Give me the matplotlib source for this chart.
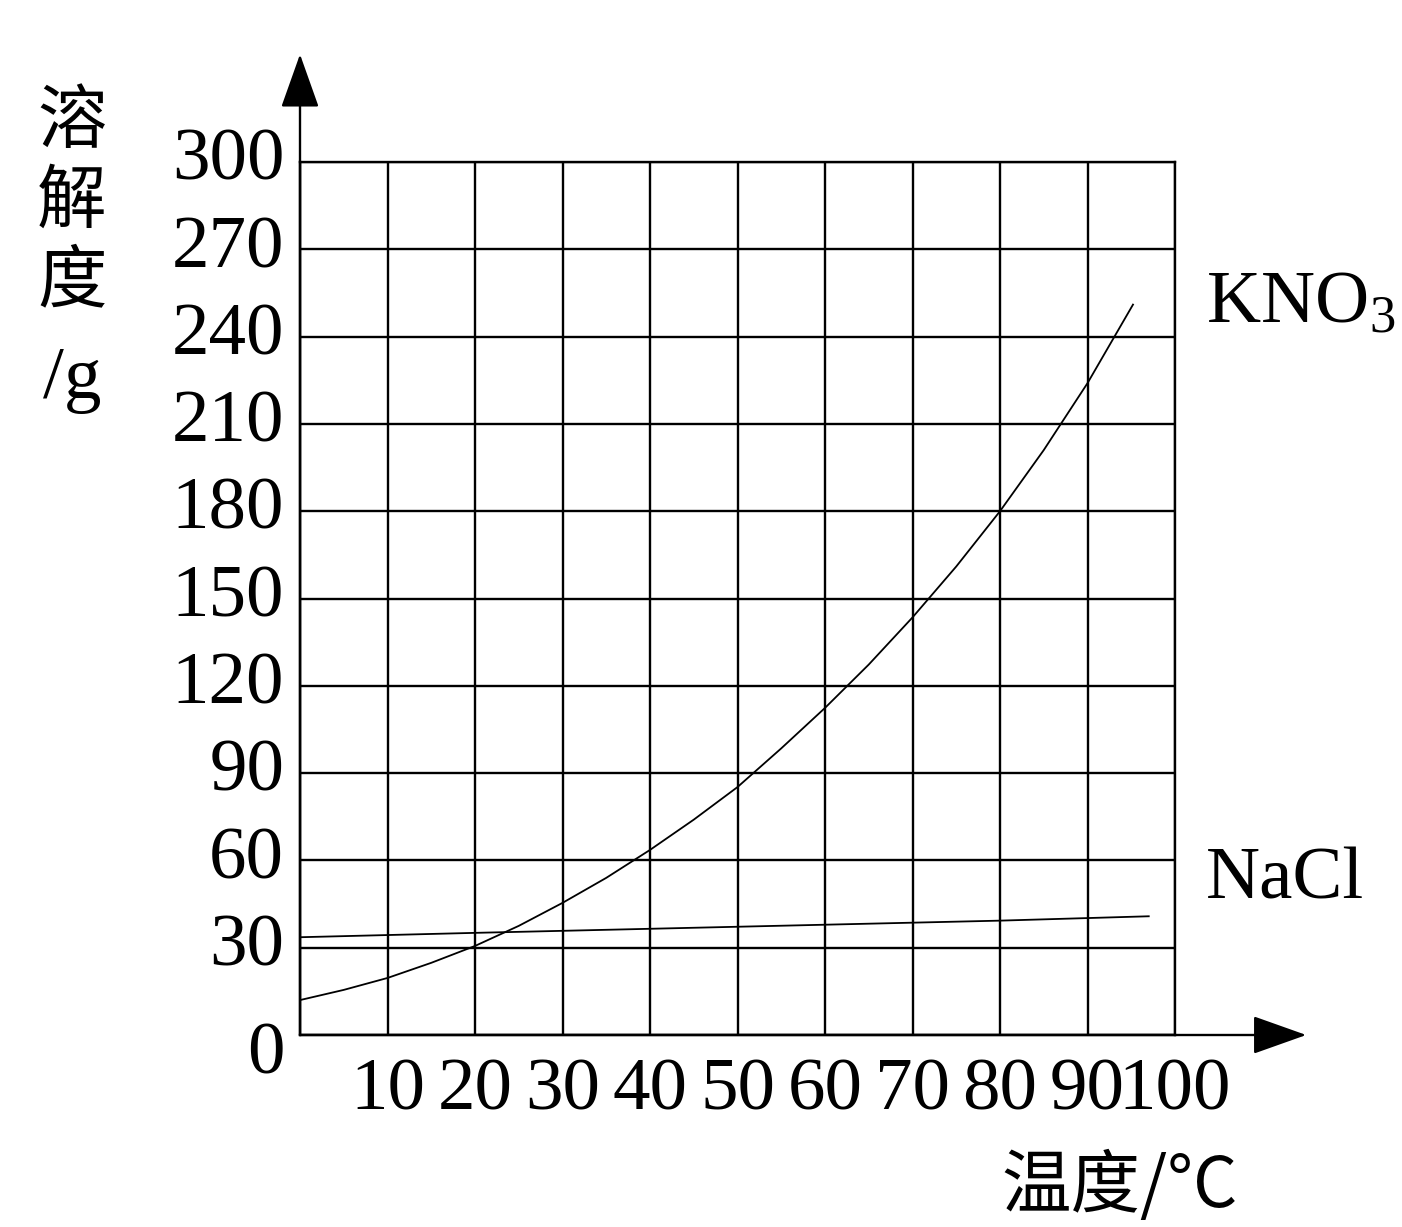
import matplotlib
matplotlib.use("Agg")
import matplotlib.pyplot as plt

# Solubility curves
temp_kno3 = [0, 5, 10, 15, 20, 25, 30, 35, 40, 45, 50, 55, 60, 65, 70, 75, 80, 85, 90, 95.2]
sol_kno3 = [12.0, 15.5, 19.6, 24.8, 30.6, 37.5, 45.4, 54.0, 63.6, 74.0, 85.2, 98.5,
            112.4, 127.3, 143.5, 161.0, 180.0, 201.0, 224.0, 251.0]
temp_nacl = [0, 20, 40, 60, 80, 97]
sol_nacl = [33.6, 35.1, 36.5, 37.9, 39.3, 40.8]

x_ticks = [0, 10, 20, 30, 40, 50, 60, 70, 80, 90, 100]
y_ticks = [0, 30, 60, 90, 120, 150, 180, 210, 240, 270, 300]

SERIF = "Liberation Serif"
CJK = ["Noto Sans CJK SC", "DejaVu Sans"]

plt.rcParams["mathtext.fontset"] = "custom"
plt.rcParams["mathtext.rm"] = SERIF
plt.rcParams["mathtext.it"] = SERIF + ":italic"
plt.rcParams["mathtext.bf"] = SERIF + ":bold"

fig = plt.figure(figsize=(14.02, 12.27), dpi=100)
ax = fig.add_axes([300 / 1402, 192 / 1227, 875 / 1402, 873 / 1227])

ax.set_xlim(0, 100)
ax.set_ylim(0, 300)
ax.set_xticks(x_ticks)
ax.set_yticks(y_ticks)
ax.grid(True, color="black", linewidth=1.7)
ax.tick_params(length=0, labelbottom=False, labelleft=False)
for sp in ax.spines.values():
    sp.set_linewidth(1.7)

ax.plot(temp_kno3, sol_kno3, color="black", linewidth=1.3)
ax.plot(temp_nacl, sol_nacl, color="black", linewidth=1.3)

# axis arrows
arrow = dict(arrowstyle="-|>,head_length=0.9,head_width=0.32", color="black",
             linewidth=1.7, mutation_scale=38, shrinkA=0, shrinkB=0)
ax.annotate("", xy=(0, 337), xytext=(0, 0), arrowprops=arrow, annotation_clip=False)
ax.annotate("", xy=(115, 0), xytext=(0, 0), arrowprops=arrow, annotation_clip=False)

# tick labels
for v in y_ticks:
    yy = -7 if v == 0 else v
    ax.text(-1.8, yy, str(v), ha="right", va="center", fontsize=54, family=SERIF)
for v in x_ticks[1:]:
    ax.text(v, -8, str(v), ha="center", va="top", fontsize=54, family=SERIF)

# axis titles
for i, ch in enumerate(["溶", "解", "度"]):
    fig.text(72 / 1402, 1 - (122 + i * 80) / 1227, ch, ha="center", va="center",
             fontsize=50, family=CJK)
fig.text(72 / 1402, 1 - 380 / 1227, "/g", ha="center", va="center",
         fontsize=54, family=SERIF)
fig.text(1120 / 1402, 4 / 1227, "温度/°C", ha="center", va="bottom",
         fontsize=50, family=CJK)

# curve labels
ax.text(103.5, 251, r"KNO$_{3}$", ha="left", va="center", fontsize=54, family=SERIF)
ax.text(103.5, 53, "NaCl", ha="left", va="center", fontsize=54, family=SERIF)

fig.savefig("out.png", dpi=100, facecolor="white")
